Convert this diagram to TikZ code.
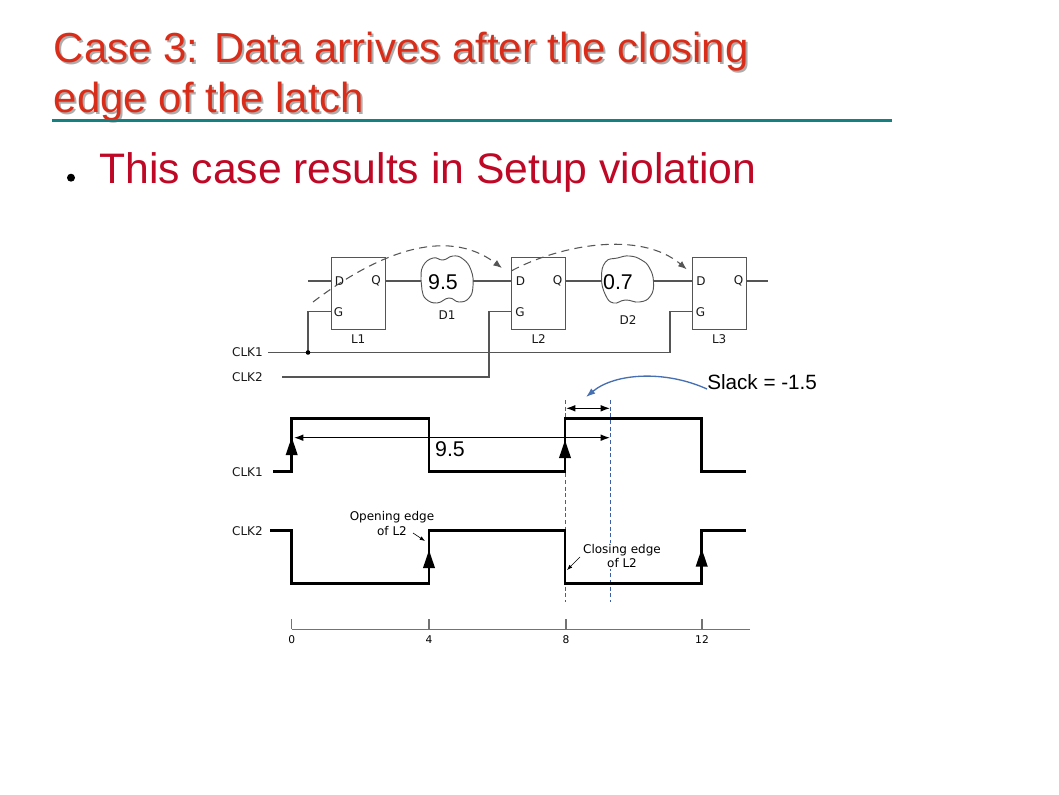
\documentclass[tikz,border=0pt]{standalone}
\usepackage{fontspec}
\setmainfont{Liberation Sans}
\newfontfamily\dejavu{DejaVu Sans}
\usetikzlibrary{arrows.meta,positioning}

\definecolor{titlered}{RGB}{218,45,25}
\definecolor{bulletred}{RGB}{190,8,38}
\definecolor{rulecolor}{RGB}{20,128,128}
\definecolor{wiregray}{RGB}{85,85,85}
\definecolor{guideblue}{RGB}{60,95,170}
\definecolor{slackblue}{RGB}{70,112,178}

\tikzset{
  titletext/.style={font=\fontsize{31.5}{38}\selectfont, text=titlered, inner sep=0pt},
  titleshadow/.style={titletext, text=black!32},
  bullettext/.style={font=\fontsize{32}{38}\selectfont, text=bulletred, inner sep=0pt},
  latch/.style={draw=wiregray, line width=0.8pt, minimum width=40.5pt, minimum height=54pt, inner sep=0pt},
  pinlabel/.style={font=\dejavu\fontsize{9}{10.8}\selectfont, text=black!90, inner sep=0pt},
  wire/.style={draw=wiregray, line width=0.8pt},
  cloudline/.style={draw=wiregray, line width=0.7pt},
  delaytext/.style={font=\fontsize{16}{19}\selectfont, inner sep=0pt},
  dataflow/.style={draw=wiregray, line width=0.8pt, dash pattern=on 6pt off 4pt, -{Latex[length=6.5pt,width=5pt]}},
  wave/.style={line width=1.9pt, line join=miter},
  edgemark/.style={line width=1.9pt, -{Triangle[length=13.5pt,width=8.5pt]}},
  meas/.style={line width=0.9pt, {Latex[length=7pt,width=5pt]}-{Latex[length=7pt,width=5pt]}},
  guide/.style={draw=guideblue, line width=0.7pt, dash pattern=on 3pt off 2pt},
  slackarrow/.style={draw=slackblue, line width=1pt, -{Latex[length=7pt,width=5pt]}},
  axisline/.style={draw=black!55, line width=0.8pt},
  note/.style={font=\dejavu\fontsize{9}{10.9}\selectfont, align=center, inner sep=0.8pt},
  notearrow/.style={line width=0.5pt, -{Latex[length=4pt,width=3pt]}},
  ticklabel/.style={font=\dejavu\fontsize{8}{9.6}\selectfont, inner sep=0pt},
}

\begin{document}
\begin{tikzpicture}[x=0.75pt,y=0.75pt,yscale=-1,xscale=1]
\useasboundingbox (0,0) rectangle (1059,795);
\fill[white] (0,0) rectangle (1059,795);

% Text Node
\node[titleshadow, anchor=base west] (title1s) at (55.5,64.5) {Case 3: Data arrives after the closing};
\node[titletext, anchor=base west] (title1) at (53.5,62.5) {Case 3: Data arrives after the closing};
\node[titleshadow, anchor=base west] (title2s) at (55.5,114.5) {edge of the latch};
\node[titletext, anchor=base west] (title2) at (53.5,112.5) {edge of the latch};
%Straight Lines
\coordinate (ruleL) at (52,120.5);
\coordinate (ruleR) at (892,120.5);
\draw[rulecolor, line width=2.3pt] (ruleL) -- (ruleR);
% Text Node
\fill (71,177.7) circle [radius=4];
\node[bullettext, anchor=base west] (point) at (99,183.3) {This case results in Setup violation};

%Shape: Rectangle
\node[latch] (L1) at (358.2,293.8) {};
\node[latch] (L2) at (538.7,293.5) {};
\node[latch] (L3) at (719.2,293.5) {};
\node[pinlabel, below=3pt of L1] (L1name) {L1};
\node[pinlabel, below=3pt of L2] (L2name) {L2};
\node[pinlabel, below=3pt of L3] (L3name) {L3};
% Text Node
\node[pinlabel] (L1D) at (339.5,281) {D};
\node[pinlabel] (L1Q) at (376,281) {Q};
\node[pinlabel] (L1G) at (338.5,312) {G};
\node[pinlabel] (L2D) at (520.5,281) {D};
\node[pinlabel] (L2Q) at (557.5,281) {Q};
\node[pinlabel] (L2G) at (520,312) {G};
\node[pinlabel] (L3D) at (701,281) {D};
\node[pinlabel] (L3Q) at (738.5,281) {Q};
\node[pinlabel] (L3G) at (700.5,312) {G};

%Curve Lines
\draw[cloudline, shift={(447,280)}] plot[smooth cycle, tension=0.8] coordinates {(-26,0) (-24,-14) (-14,-22) (-4,-20) (6,-24) (16,-21) (24,-10) (26,6) (22,18) (12,22) (2,18) (-10,23) (-21,19) (-25,10)};
\draw[cloudline, shift={(627.5,280)}] plot[smooth cycle, tension=0.8] coordinates {(-26,-2) (-22,-18) (-10,-22) (2,-24) (14,-20) (22,-12) (26,2) (23,16) (12,22) (-2,20) (-14,23) (-22,15)};
\node[delaytext] (d1val) at (443,282) {9.5};
\node[delaytext] (d2val) at (618,282) {0.7};
\node[pinlabel] (D1) at (447,315) {D1};
\node[pinlabel] (D2) at (628,320) {D2};

% pin points
\coordinate (in1) at (308,281);
\coordinate (L1d) at (330.7,281);
\coordinate (L1q) at (385.7,281);
\coordinate (L1g) at (330.7,311.7);
\coordinate (D1in) at (420.7,281);
\coordinate (D1out) at (473.3,281);
\coordinate (L2d) at (511.7,281);
\coordinate (L2q) at (565.7,281);
\coordinate (L2g) at (511.7,311.7);
\coordinate (D2in) at (601.7,281);
\coordinate (D2out) at (653.3,281);
\coordinate (L3d) at (692.3,281);
\coordinate (L3q) at (746,281);
\coordinate (L3g) at (692.3,311.7);
\coordinate (out3) at (768,281);
\coordinate (tap) at (308,352.5);

%Straight Lines
\draw[wire] (in1) -- (L1d);
\draw[wire] (L1q) -- (D1in);
\draw[wire] (D1out) -- (L2d);
\draw[wire] (L2q) -- (D2in);
\draw[wire] (D2out) -- (L3d);
\draw[wire] (L3q) -- (out3);

% Text Node
\node[pinlabel, anchor=east] (clk1) at (263,352.5) {CLK1};
\node[pinlabel, anchor=east] (clk2) at (263,377) {CLK2};
%Straight Lines
\draw[wire] (268,352.5) -- (670,352.5) |- (L3g);
\draw[wire] (tap) |- (L1g);
\fill[black] (tap) circle [radius=2.3];
\draw[wire] (282,377) -- (489,377) |- (L2g);

%Curve Lines
\draw[dataflow] (313,302) .. controls (375,255) and (445,225) .. (502,268);
\draw[dataflow] (511.7,270.7) .. controls (560,245) and (640,230) .. (686.7,269.3);

% Text Node
\node[font=\fontsize{15.5}{18}\selectfont, anchor=west, inner sep=0pt] (slack) at (707,382) {Slack = -1.5};
%Curve Lines
\coordinate (slackfoot) at (707,389);
\coordinate (slackhit) at (586,397);
\draw[slackarrow] (slackfoot) .. controls (665,370) and (615,373) .. (slackhit);

% timing
\node[pinlabel, anchor=east] (tclk1) at (263,471.7) {CLK1};
\node[pinlabel, anchor=east] (tclk2) at (263,531) {CLK2};
\draw[guide] (565,400) -- (565,602);
\draw[guide] (610,400) -- (610,602);
\draw[wave] (273,471.7) -- (291.7,471.7) -- (291.7,418.3) -- (429,418.3) -- (429,471.7) -- (565,471.7) -- (565,418.3) -- (701.7,418.3) -- (701.7,471.7) -- (746,471.7);
\draw[wave] (270,530.5) -- (291.7,530.5) -- (291.7,583.5) -- (429,583.5) -- (429,530.5) -- (565,530.5) -- (565,583.5) -- (701.7,583.5) -- (701.7,530.5) -- (746,530.5);
\draw[edgemark] (291.7,458) -- (291.7,437);
\draw[edgemark] (565,458) -- (565,440);
\draw[edgemark] (429,571) -- (429,550);
\draw[edgemark] (701.7,570) -- (701.7,548.5);

%Straight Lines
\coordinate (launch) at (294,437.7);
\coordinate (arrive) at (610,437.7);
\draw[meas] (launch) -- (arrive);
\node[delaytext] (span) at (450,449) {9.5};
\coordinate (close) at (566,408.3);
\coordinate (late) at (610,408.3);
\draw[meas] (close) -- (late);

% Text Node
\node[note] (open) at (392,523.7) {Opening edge\\of L2};
\draw[notearrow] (413,533) -- (425,541);
\node[note, fill=white] (closing) at (622,556) {Closing edge\\of L2};
\draw[notearrow] (580,557) -- (567,570);

%Straight Lines
\draw[axisline] (291.7,629.3) -- (750,629.3);
\foreach \t/\lab in {291.7/0, 429/4, 566/8, 702/12} {
  \draw[axisline] (\t,619) -- (\t,629.3);
  \node[ticklabel] (tick\lab) at (\t,639.5) {\lab};
}

\end{tikzpicture}
\end{document}
